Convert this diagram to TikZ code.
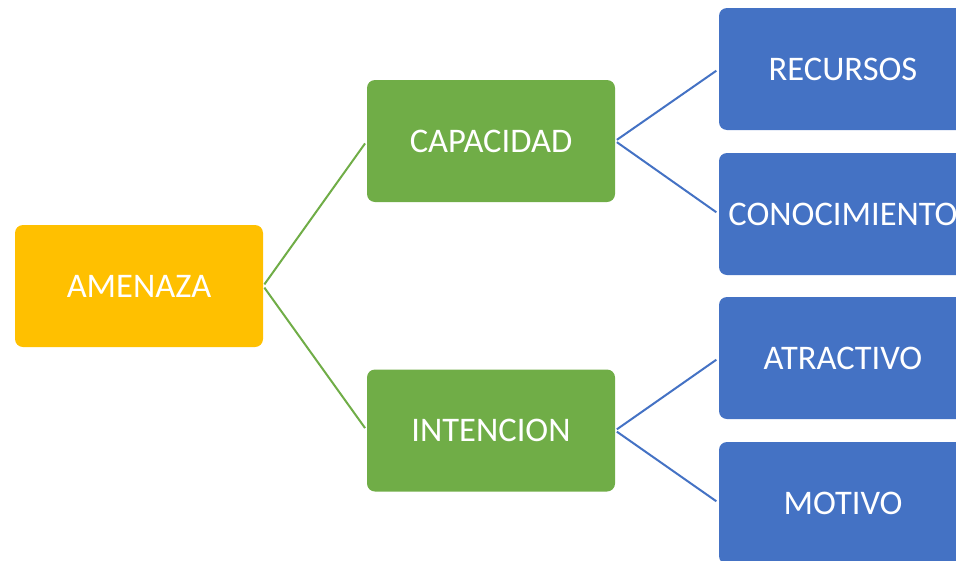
\documentclass[tikz,border=0pt]{standalone}
\usepackage{fontspec}
\setmainfont{Carlito}
\definecolor{cyel}{HTML}{FFC000}
\definecolor{cgrn}{HTML}{70AD47}
\definecolor{cblu}{HTML}{4472C4}
\begin{document}
\begin{tikzpicture}[x=1pt,y=-1pt,
  box/.style={rectangle, rounded corners=8pt, minimum width=248pt, minimum height=122pt,
    inner sep=0pt, text=white, font=\fontsize{34.5}{41}\selectfont},
  ybox/.style={box, fill=cyel},
  gbox/.style={box, fill=cgrn},
  bbox/.style={box, fill=cblu},
  gline/.style={draw=cgrn, line width=2pt, shorten <=2pt, shorten >=3pt},
  bline/.style={draw=cblu, line width=2pt, shorten <=2pt, shorten >=3pt}]
\useasboundingbox (0,0) rectangle (956,560);
\clip (0,0) rectangle (956,560);
\node[ybox] (amenaza) at (139,286) {AMENAZA};
\node[gbox] (capacidad) at (491,141) {CAPACIDAD};
\node[gbox] (intencion) at (491,430.5) {INTENCION};
\node[bbox] (recursos) at (843,69) {RECURSOS};
\node[bbox] (conocimiento) at (843,214) {CONOCIMIENTO};
\node[bbox] (atractivo) at (843,358) {ATRACTIVO};
\node[bbox] (motivo) at (843,503) {MOTIVO};
\draw[gline] (amenaza.east) -- (capacidad.west);
\draw[gline] (amenaza.east) -- (intencion.west);
\draw[bline] (capacidad.east) -- (recursos.west);
\draw[bline] (capacidad.east) -- (conocimiento.west);
\draw[bline] (intencion.east) -- (atractivo.west);
\draw[bline] (intencion.east) -- (motivo.west);
\end{tikzpicture}
\end{document}
